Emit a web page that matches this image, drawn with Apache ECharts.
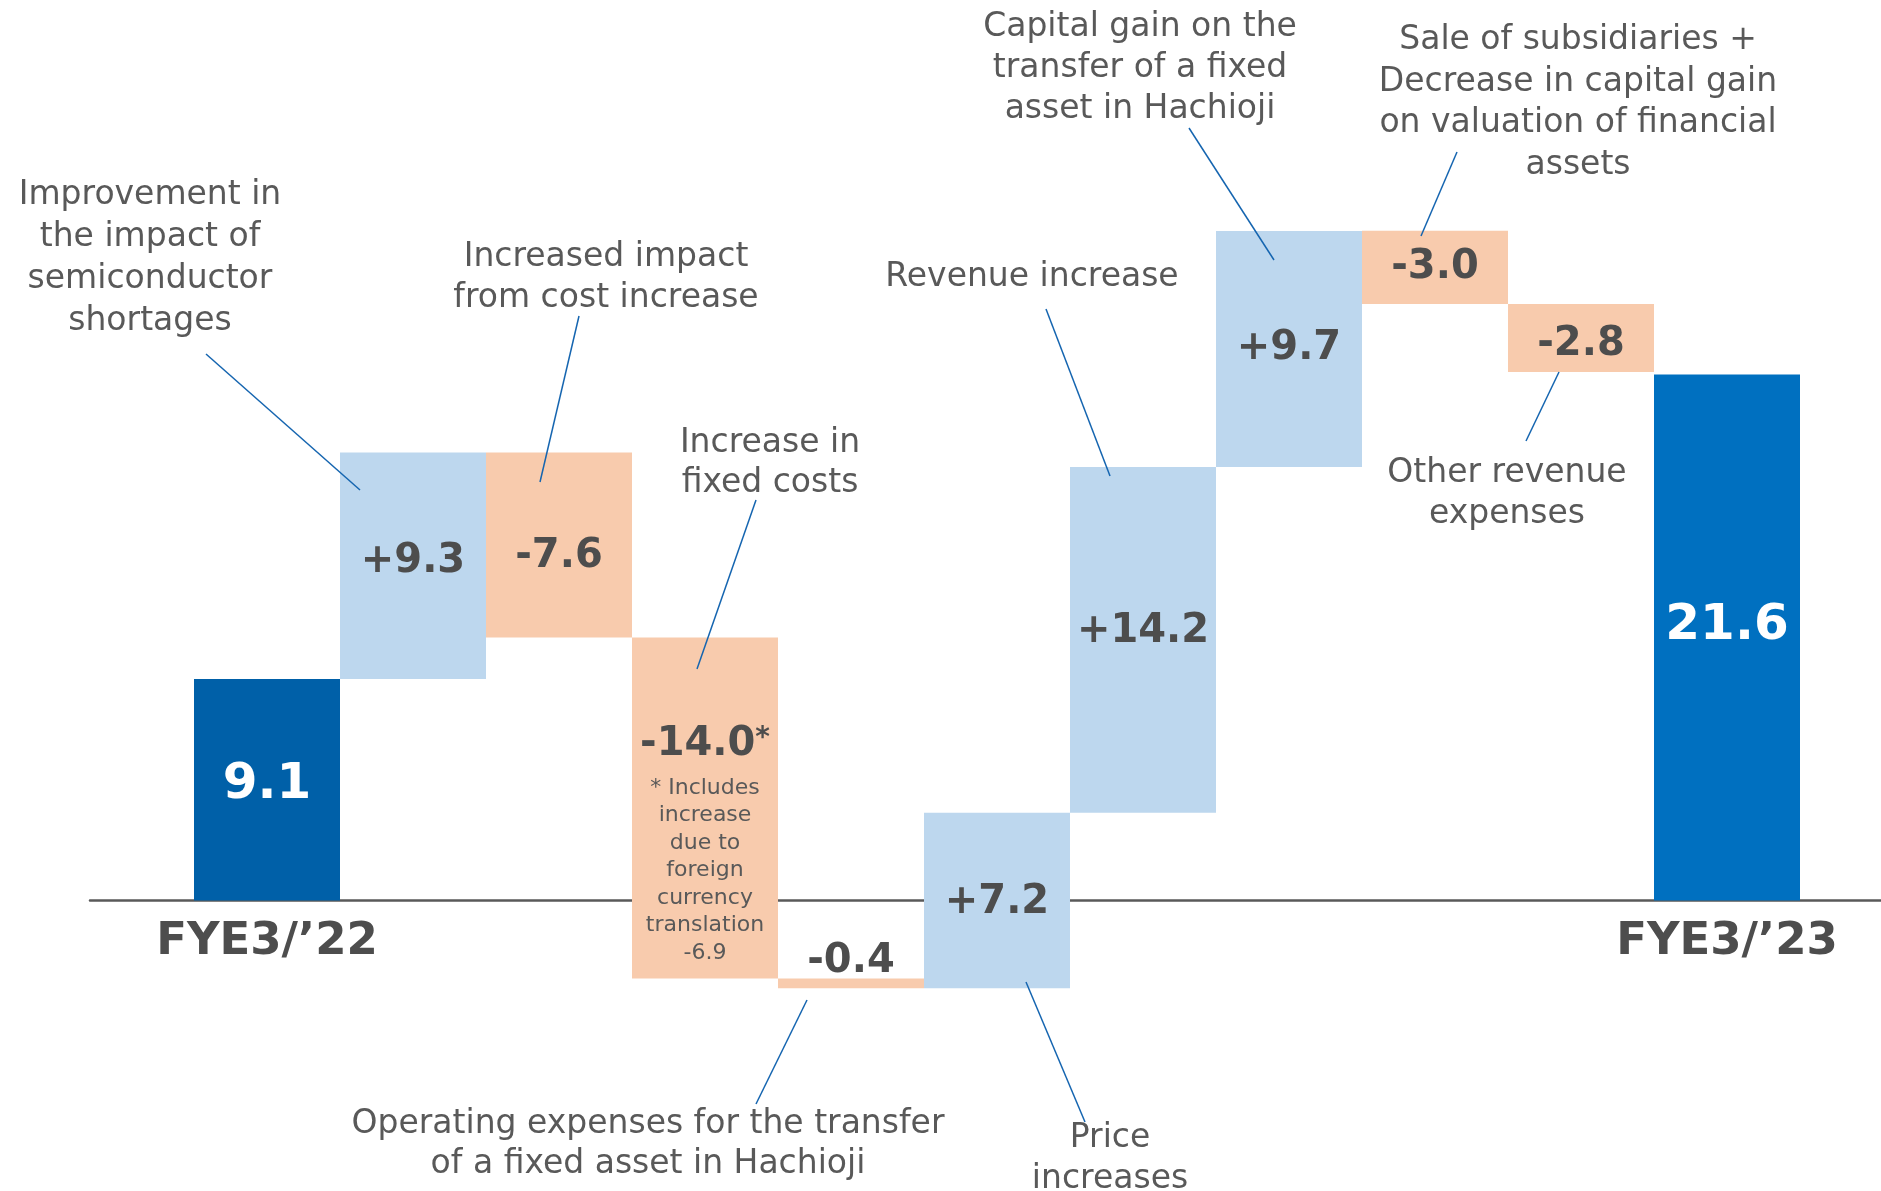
<!DOCTYPE html>
<html>
<head>
<meta charset="utf-8">
<script src="https://cdn.jsdelivr.net/npm/echarts@6/dist/echarts.min.js"></script>
<style>
html, body { margin: 0; padding: 0; background: #fff; }
#chart { width: 1881px; height: 1191px; }
</style>
</head>
<body>
<div id="chart"></div>
<script>
// operating profit bridge, FYE3/'22 -> FYE3/'23
const categories = ['FYE3/’22', 'Semiconductor shortages', 'Cost increase', 'Fixed costs',
    'Hachioji transfer expenses', 'Price increases', 'Revenue increase', 'Hachioji capital gain',
    'Subsidiaries / financial assets', 'Other revenue expenses', 'FYE3/’23'];
const changes = [9.1, 9.3, -7.6, -14.0, -0.4, 7.2, 14.2, 9.7, -3.0, -2.8, 21.6];
const isTotal = [true, false, false, false, false, false, false, false, false, false, true];
const valueLabels = ['9.1', '+9.3', '-7.6', '-14.0', '-0.4', '+7.2', '+14.2', '+9.7', '-3.0', '-2.8', '21.6'];
const footnote = ['* Includes', 'increase', 'due to', 'foreign', 'currency', 'translation', '-6.9'];

const annotations = [
    { text: 'Improvement in\nthe impact of\nsemiconductor\nshortages', x: 150, y: 174, lh: 42 },
    { text: 'Increased impact\nfrom cost increase', x: 606, y: 237, lh: 41 },
    { text: 'Increase in\nfixed costs', x: 770, y: 423, lh: 40.5 },
    { text: 'Operating expenses for the transfer\nof a fixed asset in Hachioji', x: 648, y: 1104, lh: 40.5 },
    { text: 'Price\nincreases', x: 1110, y: 1118, lh: 41 },
    { text: 'Revenue increase', x: 1032, y: 257, lh: 40 },
    { text: 'Capital gain on the\ntransfer of a fixed\nasset in Hachioji', x: 1140, y: 7, lh: 41 },
    { text: 'Sale of subsidiaries +\nDecrease in capital gain\non valuation of financial\nassets', x: 1578, y: 20, lh: 41.5 },
    { text: 'Other revenue\nexpenses', x: 1507, y: 453, lh: 41 }
];
const leaders = [
    [206, 354, 360, 490], [579, 316, 540, 482], [756, 500, 697, 669],
    [807, 1000, 756, 1104], [1026, 982, 1085, 1122], [1046, 309, 1110, 476],
    [1189, 128, 1274, 260], [1457, 152, 1421, 236], [1559, 372, 1526, 441]
];

const FONT = '"DejaVu Sans", Verdana, sans-serif';
const TEXT = '#4d4d4d';
// small vertical nudges of the value labels inside their bars
const labelNudge = { '9.1': -5, '+9.3': -4, '-7.6': 12, '+7.2': 2, '+14.2': -8, '-2.8': 7, '21.6': -12 };

// invisible base + visible step for each bar
let running = 0;
const baseData = [];
const stepData = [];
changes.forEach((v, i) => {
    let lo, size;
    if (isTotal[i]) {
        lo = 0; size = v; running = v;
    } else {
        const end = Math.round((running + v) * 10) / 10;
        lo = Math.min(running, end); size = Math.abs(v); running = end;
    }
    baseData.push(lo);
    let color = v < 0 ? '#f8cbad' : '#bdd7ee';
    if (isTotal[i]) color = i === 0 ? '#0060a8' : '#0070c0';
    const label = {
        show: true, position: 'inside', formatter: valueLabels[i],
        offset: [0, labelNudge[valueLabels[i]] || 0],
        color: isTotal[i] ? '#fff' : TEXT, fontSize: isTotal[i] ? 50 : 40
    };
    if (valueLabels[i] === '-0.4') {
        label.position = 'top';
        label.distance = -3;
    }
    if (valueLabels[i] === '-14.0') {
        label.position = 'insideTop';
        label.distance = 77;
        label.formatter = '{v|' + valueLabels[i] + '}{s|*}\n' + footnote.map(t => '{n|' + t + '}').join('\n');
        label.rich = {
            v: { fontSize: 40, fontWeight: 'bold', color: TEXT, lineHeight: 60, fontFamily: FONT },
            s: { fontSize: 28, fontWeight: 'bold', color: TEXT, lineHeight: 60, verticalAlign: 'top', padding: [10, 0, 0, 0], fontFamily: FONT },
            n: { fontSize: 22, fontWeight: 'normal', color: '#595959', lineHeight: 27.5, fontFamily: FONT }
        };
    }
    stepData.push({ value: size, itemStyle: { color: color }, label: label });
});

const axisLineStyle = { color: '#595959', width: 2.5 };
const yMin = -10, yMax = 30, gridHeight = 974;

const chart = echarts.init(document.getElementById('chart'));
chart.setOption({
    backgroundColor: '#fff',
    animation: false,
    textStyle: { fontFamily: FONT },
    grid: [
        { left: 194, width: 1606, top: 170, height: gridHeight, outerBoundsMode: 'none', containLabel: false },
        { left: 90, right: 0, top: 170, height: gridHeight, outerBoundsMode: 'none', containLabel: false }
    ],
    xAxis: [{
        type: 'category',
        data: categories,
        // lift the category axis from the grid bottom up to the zero line
        offset: -gridHeight * (0 - yMin) / (yMax - yMin),
        axisLine: { show: false, onZero: false },
        axisTick: { show: false },
        axisLabel: {
            interval: 0,
            margin: 19,
            fontSize: 45,
            fontWeight: 'bold',
            color: TEXT,
            fontFamily: FONT,
            formatter: (val, idx) => isTotal[idx] ? val : ''
        }
    }, {
        gridIndex: 1,
        type: 'value',
        min: 0,
        max: 1,
        axisLine: { show: true, onZero: true, lineStyle: axisLineStyle },
        axisTick: { show: false },
        axisLabel: { show: false },
        splitLine: { show: false }
    }],
    yAxis: [
        { type: 'value', min: yMin, max: yMax, show: false },
        { gridIndex: 1, type: 'value', min: yMin, max: yMax, show: false }
    ],
    series: [{
        type: 'bar',
        stack: 'bridge',
        stackStrategy: 'all',
        barCategoryGap: '0%',
        itemStyle: { color: 'transparent' },
        emphasis: { disabled: true },
        data: baseData
    }, {
        type: 'bar',
        stack: 'bridge',
        stackStrategy: 'all',
        barCategoryGap: '0%',
        label: { fontWeight: 'bold', fontFamily: FONT },
        data: stepData
    }],
    graphic: leaders.map(l => ({
        type: 'line',
        shape: { x1: l[0], y1: l[1], x2: l[2], y2: l[3] },
        style: { stroke: '#1565b0', lineWidth: 1.5 },
        z: 10
    })).concat(annotations.map(a => ({
        type: 'text',
        x: a.x,
        y: a.y,
        z: 10,
        style: {
            text: a.text,
            align: 'center',
            verticalAlign: 'top',
            lineHeight: a.lh,
            fontSize: 33,
            fontFamily: FONT,
            fill: '#595959'
        }
    })))
});
</script>
</body>
</html>
